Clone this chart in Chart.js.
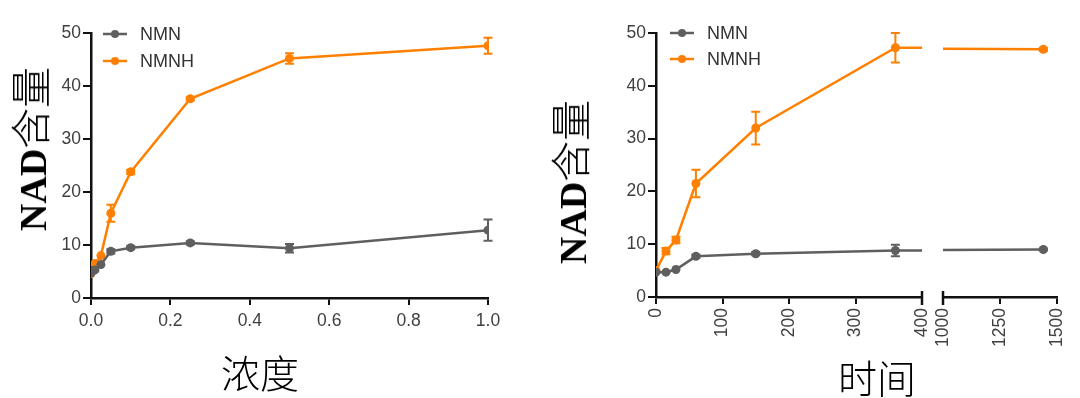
<!DOCTYPE html>
<html>
<head>
<meta charset="utf-8">
<script src="https://cdn.jsdelivr.net/npm/chart.js@4.4.1/dist/chart.umd.min.js"></script>
<style>
html,body{margin:0;padding:0;background:#fff;}
#wrap{position:relative;width:1080px;height:398px;overflow:hidden;background:#fff;}
canvas{position:absolute;}
.ytitle{position:absolute;transform:translate(-50%,-50%) rotate(-90deg);white-space:nowrap;color:#000;line-height:1;}
.ytitle .en{font-family:'Liberation Serif','Times New Roman',serif;font-weight:bold;font-size:38px;}
.ytitle .zh{font-family:'Noto Sans CJK SC',sans-serif;font-weight:300;font-size:41px;}
.xtitle{position:absolute;transform:translate(-50%,-50%);font-family:'Noto Sans CJK SC',sans-serif;font-weight:300;font-size:39px;color:#000;white-space:nowrap;line-height:1;}
</style>
</head>
<body>
<div id="wrap">
  <canvas id="c1" style="left:0px;top:0px;width:530px;height:350px" width="530" height="350"></canvas>
  <canvas id="c2" style="left:540px;top:0px;width:407px;height:350px" width="407" height="350"></canvas>
  <canvas id="c3" style="left:925px;top:0px;width:157px;height:350px" width="157" height="350"></canvas>
  <div class="ytitle" style="left:30px;top:149px"><span class="en">NAD</span><span class="zh">含量</span></div>
  <div class="ytitle" style="left:570px;top:182px"><span class="en">NAD</span><span class="zh">含量</span></div>
  <div class="xtitle" style="left:260px;top:371px">浓度</div>
  <div class="xtitle" style="left:877px;top:376px">时间</div>
</div>
<script>
// ---- data ----
const seriesNames = ['NMN', 'NMNH'];
const concX = [0, 0.01, 0.025, 0.05, 0.1, 0.25, 0.5, 1.0];
const concNMN = [4.7, 5.3, 6.3, 8.8, 9.5, 10.4, 9.4, 12.8];
const concNMNErr = [0, 0, 0, 0.4, 0.3, 0.3, 0.8, 2.0];
const concNMNH = [4.6, 6.5, 8.0, 16.0, 23.8, 37.6, 45.2, 47.6];
const concNMNHErr = [0, 0, 0, 1.6, 0.4, 0.3, 1.0, 1.5];
const timeX = [0, 15, 30, 60, 150, 360, 1440];
const timeNMN = [4.7, 4.7, 5.2, 7.7, 8.2, 8.8, 9.0];
const timeNMNErr = [0, 0, 0, 0.3, 0.3, 1.1, 0.2];
const timeNMNH = [5.0, 8.7, 10.8, 21.5, 32.0, 47.2, 46.9];
const timeNMNHErr = [0, 0.6, 0.6, 2.6, 3.1, 2.8, 0.3];
const yTicks = [0, 10, 20, 30, 40, 50];
const concTicks = [0, 0.2, 0.4, 0.6, 0.8, 1.0];
const timeTicksA = [0, 100, 200, 300, 400];
const timeTicksB = [1000, 1250, 1500];

// ---- styles ----
const GRAY = '#5f5f5f';
const ORANGE = '#ff8000';
const AXIS = '#111111';
const TICKCOL = '#404040';
const tickFont = {family: "'Liberation Sans', Arial, sans-serif", size: 17.5};

const errorBars = {
  id: 'errorBars',
  afterDatasetsDraw(chart) {
    const ctx = chart.ctx, xs = chart.scales.x, ys = chart.scales.y;
    chart.data.datasets.forEach(ds => {
      if (!ds.errors) return;
      ctx.save();
      ctx.strokeStyle = ds.borderColor;
      ctx.lineWidth = 2;
      ds.data.forEach((p, i) => {
        const e = ds.errors[i];
        if (!e || p.x < xs.min || p.x > xs.max) return;
        const px = xs.getPixelForValue(p.x);
        const y1 = ys.getPixelForValue(p.y - e), y2 = ys.getPixelForValue(p.y + e);
        ctx.beginPath();
        ctx.moveTo(px, y1); ctx.lineTo(px, y2);
        ctx.moveTo(px - 4.5, y1); ctx.lineTo(px + 4.5, y1);
        ctx.moveTo(px - 4.5, y2); ctx.lineTo(px + 4.5, y2);
        ctx.stroke();
      });
      ctx.restore();
    });
  }
};

const refLegend = {
  id: 'refLegend',
  afterDraw(chart, args, o) {
    if (!o || !o.show) return;
    const ctx = chart.ctx, a = chart.chartArea;
    chart.data.datasets.forEach((ds, i) => {
      const y = a.top + o.top + i * o.gap;
      const x0 = a.left + o.lineStart;
      ctx.save();
      ctx.strokeStyle = ds.borderColor;
      ctx.lineWidth = 2.5;
      ctx.beginPath(); ctx.moveTo(x0, y); ctx.lineTo(x0 + o.lineLen, y); ctx.stroke();
      ctx.fillStyle = ds.borderColor;
      ctx.beginPath(); ctx.arc(x0 + o.lineLen / 2, y, 4, 0, Math.PI * 2); ctx.fill();
      ctx.fillStyle = '#333';
      ctx.font = "18px 'Liberation Sans', Arial, sans-serif";
      ctx.textBaseline = 'middle';
      ctx.textAlign = 'left';
      ctx.fillText(ds.label, a.left + o.textStart, y + 1);
      ctx.restore();
    });
  }
};

const breakMarks = {
  id: 'breakMarks',
  afterDraw(chart, args, o) {
    if (!o) return;
    const ctx = chart.ctx, a = chart.chartArea;
    ctx.save();
    ctx.strokeStyle = AXIS;
    ctx.lineWidth = 2.5;
    const marks = [];
    if (o.right) marks.push(a.right);
    if (o.left) marks.push(a.left);
    marks.forEach(x => {
      ctx.beginPath(); ctx.moveTo(x, a.bottom - 6); ctx.lineTo(x, a.bottom + 8); ctx.stroke();
    });
    ctx.restore();
  }
};

function mkDataset(label, color, xs, ys, errs) {
  return {
    label: label,
    data: xs.map((x, i) => ({x: x, y: ys[i]})),
    errors: errs,
    borderColor: color,
    backgroundColor: color,
    borderWidth: 2.5,
    pointRadius: 4.5,
    pointBorderWidth: 0,
    pointHoverRadius: 4.5,
    tension: 0
  };
}

function makeChart(id, cfg) {
  const yScale = {
    type: 'linear', min: 0, max: 50, display: cfg.showY,
    afterBuildTicks: s => { s.ticks = yTicks.map(v => ({value: v})); },
    afterFit: s => { s.width = cfg.showY ? 50 : 0; },
    border: {display: true, color: AXIS, width: 2.5},
    grid: {display: true, drawOnChartArea: false, drawTicks: true, tickLength: 8, color: AXIS, lineWidth: 2},
    ticks: {font: tickFont, color: TICKCOL, padding: 2}
  };
  const xScale = {
    type: 'linear', min: cfg.xTicks[0], max: cfg.xTicks[cfg.xTicks.length - 1],
    afterBuildTicks: s => { s.ticks = cfg.xTicks.map(v => ({value: v})); },
    afterFit: s => { s.height = cfg.xHeight; },
    border: {display: true, color: AXIS, width: 2.5},
    grid: {display: true, drawOnChartArea: false, drawTicks: true, tickLength: 7, color: AXIS, lineWidth: 2},
    ticks: {
      font: tickFont, color: TICKCOL, padding: cfg.rot ? 4 : 6,
      minRotation: cfg.rot, maxRotation: cfg.rot, autoSkip: false,
      callback: cfg.fmt
    }
  };
  return new Chart(document.getElementById(id), {
    type: 'line',
    data: {datasets: cfg.datasets},
    options: {
      responsive: false,
      animation: false,
      devicePixelRatio: 1,
      layout: {padding: cfg.padding},
      scales: {x: xScale, y: yScale},
      plugins: {
        legend: {display: false},
        tooltip: {enabled: false},
        refLegend: cfg.legend,
        breakMarks: cfg.breaks
      }
    },
    plugins: [errorBars, refLegend, breakMarks]
  });
}

const timeSets = () => [
  mkDataset(seriesNames[0], GRAY, timeX, timeNMN, timeNMNErr),
  mkDataset(seriesNames[1], ORANGE, timeX, timeNMNH, timeNMNHErr)
];

makeChart('c1', {
  showY: true, xTicks: concTicks, xHeight: 52, rot: 0,
  fmt: v => Number(v).toFixed(1),
  padding: {left: 41, top: 33, right: 42, bottom: 0},
  datasets: [
    mkDataset(seriesNames[0], GRAY, concX, concNMN, concNMNErr),
    mkDataset(seriesNames[1], ORANGE, concX, concNMNH, concNMNHErr)
  ],
  legend: {show: true, top: 1, gap: 27, lineStart: 12, lineLen: 24, textStart: 49},
  breaks: {}
});

makeChart('c2', {
  showY: true, xTicks: timeTicksA, xHeight: 53, rot: 90,
  fmt: v => String(v),
  padding: {left: 66, top: 33, right: 10, bottom: 0},
  datasets: timeSets(),
  legend: {show: true, top: 0, gap: 26, lineStart: 14, lineLen: 24, textStart: 51},
  breaks: {right: true}
});

makeChart('c3', {
  showY: false, xTicks: timeTicksB, xHeight: 53, rot: 90,
  fmt: v => String(v),
  padding: {left: 18, top: 33, right: 10, bottom: 0},
  datasets: timeSets(),
  legend: {show: false},
  breaks: {left: true}
});
</script>
</body>
</html>
